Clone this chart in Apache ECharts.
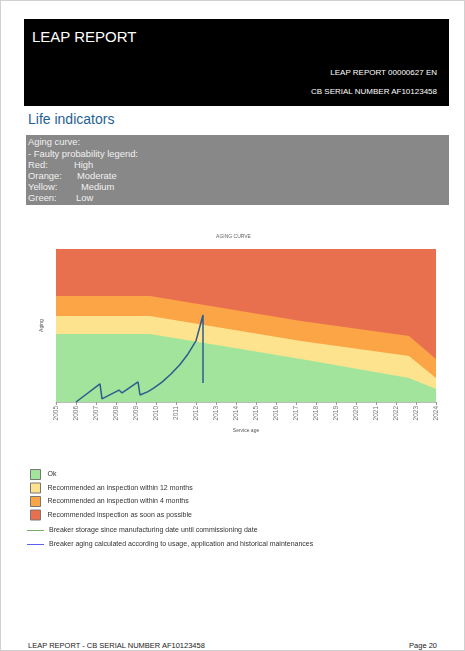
<!DOCTYPE html>
<html>
<head>
<meta charset="utf-8">
<script src="https://cdn.jsdelivr.net/npm/echarts@6/dist/echarts.min.js"></script>
<style>
  html, body { margin: 0; padding: 0; background: #fff; }
  body { width: 465px; height: 651px; position: relative; overflow: hidden; font-family: "Liberation Sans", Arial, sans-serif; box-sizing: border-box; border: 1px solid #d0d0d0; }
  .abs { position: absolute; white-space: nowrap; }
  #header { position: absolute; left: 23px; top: 18px; width: 425px; height: 87px; background: #000; }
  #gray { position: absolute; left: 25px; top: 134px; width: 423px; height: 70px; background: #888; }
  .gt { position: absolute; color: #f0f0f0; font-size: 9.4px; line-height: 11px; white-space: nowrap; }
  #chart { position: absolute; left: 0; top: 215px; width: 465px; height: 350px; }
</style>
</head>
<body>
<div id="header"></div>
<div class="abs" style="left:31px;top:27px;color:#fff;font-size:15px;">LEAP REPORT</div>
<div class="abs" style="right:27px;top:67px;color:#fff;font-size:8px;">LEAP REPORT 00000627 EN</div>
<div class="abs" style="right:27px;top:86px;color:#fff;font-size:8px;">CB SERIAL NUMBER AF10123458</div>
<div class="abs" style="left:27px;top:110px;color:#1f6193;font-size:14px;">Life indicators</div>
<div id="gray"></div>
<div class="gt" style="left:27px;top:135px;">Aging curve:</div>
<div class="gt" style="left:27px;top:146.5px;">- Faulty probability legend:</div>
<div class="gt" style="left:27px;top:158px;">Red:</div><div class="gt" style="left:73px;top:158px;">High</div>
<div class="gt" style="left:27px;top:169px;">Orange:</div><div class="gt" style="left:76px;top:169px;">Moderate</div>
<div class="gt" style="left:27px;top:180px;">Yellow:</div><div class="gt" style="left:80px;top:180px;">Medium</div>
<div class="gt" style="left:27px;top:191px;">Green:</div><div class="gt" style="left:75px;top:191px;">Low</div>
<div id="chart"></div>
<div class="abs" style="left:27px;top:640px;color:#222;font-size:7.5px;">LEAP REPORT - CB SERIAL NUMBER AF10123458</div>
<div class="abs" style="right:27px;top:640px;color:#222;font-size:7.5px;">Page 20</div>
<script>
// Tick labels (service years)
const years = [2005,2006,2007,2008,2009,2010,2011,2012,2013,2014,2015,2016,2017,2018,2019,2020,2021,2022,2023,2024];
// Probability band boundaries (x in years, y in % of aging scale)
const bandX      = [2005, 2009.7, 2017.25, 2022.65, 2024];
const redTop     = [100, 100, 100, 100, 100];
const orangeTop  = [69.3, 69.3, 52.9, 43.1, 28.1];
const yellowTop  = [56.2, 56.2, 39.9, 30.0, 15.7];
const greenTop   = [44.4, 44.4, 28.1, 15.7, 8.5];
// Breaker aging curve
const agingX = [2006.0, 2007.2, 2007.3, 2008.15, 2008.3, 2009.1, 2009.2, 2009.6, 2009.9, 2010.3, 2010.75, 2011.2, 2011.6, 2012.0, 2012.35, 2012.35];
const agingY = [0, 11.8, 2.0, 7.8, 5.9, 13.1, 4.6, 6.8, 9.2, 13.0, 18.3, 24.5, 31.4, 40.0, 56.9, 12.4];
// Storage curve (not visible in this report)
const storageX = [];
const storageY = [];

const names = {
  ok: 'Ok',
  y: 'Recommended an inspection within 12 months',
  o: 'Recommended an inspection within 4 months',
  r: 'Recommended inspection as soon as possible',
  s: 'Breaker storage since manufacturing date until commissioning date',
  a: 'Breaker aging calculated according to usage, application and historical maintenances'
};
const colors = { r: '#e8704f', o: '#fba546', y: '#fde38e', ok: '#a2e49b', aging: '#2c5d8f', storage: '#5a9e4a' };

function pairs(xs, ys) { return xs.map((x, i) => [x, ys[i]]); }
function band(name, ys, color) {
  return { name, type: 'line', data: pairs(bandX, ys), showSymbol: false, silent: true,
    lineStyle: { width: 0 }, itemStyle: { color }, areaStyle: { color, opacity: 1 } };
}

const chart = echarts.init(document.getElementById('chart'));
const sq = 'path://M0,0H10V10H0Z';
const ln = 'path://M0,0H20V1H0Z';
const legendBase = { orient: 'vertical', padding: 0, itemHeight: 10,
  textStyle: { fontSize: 7, color: '#333' }, selectedMode: false };
chart.setOption({
  animation: false,
  title: { text: 'AGING CURVE', left: 'center', top: 13, textStyle: { fontSize: 5, color: '#666', fontWeight: 'normal' } },
  grid: { left: 55, right: 30, top: 33, bottom: 164 },
  xAxis: {
    type: 'value', min: years[0], max: years[years.length - 1], interval: 1,
    name: 'Service age', nameLocation: 'middle', nameGap: 26, nameTextStyle: { fontSize: 5, color: '#555' },
    axisLine: { lineStyle: { color: '#bbb' } },
    axisTick: { show: true, length: 3, lineStyle: { color: '#999' } },
    axisLabel: { rotate: 90, fontSize: 6.5, color: '#777', margin: 4, formatter: v => String(v) },
    splitLine: { show: false }
  },
  yAxis: {
    type: 'value', min: 0, max: 100,
    name: 'Aging', nameLocation: 'middle', nameGap: 12, nameTextStyle: { fontSize: 5, color: '#555' },
    axisLine: { show: true, lineStyle: { color: '#ddd' } }, axisTick: { show: false }, axisLabel: { show: false }, splitLine: { show: false }
  },
  legend: [
    Object.assign({}, legendBase, { left: 29, top: 253, itemWidth: 14, itemGap: 2.5, data: [
      { name: names.ok, icon: sq, itemStyle: { color: colors.ok, borderColor: '#777', borderWidth: 1 } },
      { name: names.y, icon: sq, itemStyle: { color: colors.y, borderColor: '#777', borderWidth: 1 } },
      { name: names.o, icon: sq, itemStyle: { color: colors.o, borderColor: '#777', borderWidth: 1 } },
      { name: names.r, icon: sq, itemStyle: { color: colors.r, borderColor: '#777', borderWidth: 1 } }
    ] }),
    Object.assign({}, legendBase, { left: 26, top: 311, itemWidth: 17, itemGap: 7, data: [
      { name: names.s, icon: ln, itemStyle: { color: '#5a9e4a' } },
      { name: names.a, icon: ln, itemStyle: { color: '#4040f0' } }
    ] })
  ],
  series: [
    band(names.r, redTop, colors.r),
    band(names.o, orangeTop, colors.o),
    band(names.y, yellowTop, colors.y),
    band(names.ok, greenTop, colors.ok),
    { name: names.s, type: 'line', data: pairs(storageX, storageY), showSymbol: false, lineStyle: { color: colors.storage, width: 1.5 }, itemStyle: { color: colors.storage } },
    { name: names.a, type: 'line', data: pairs(agingX, agingY), showSymbol: false, z: 5, lineStyle: { color: colors.aging, width: 1.5 }, itemStyle: { color: colors.aging } }
  ]
});
</script>
</body>
</html>
